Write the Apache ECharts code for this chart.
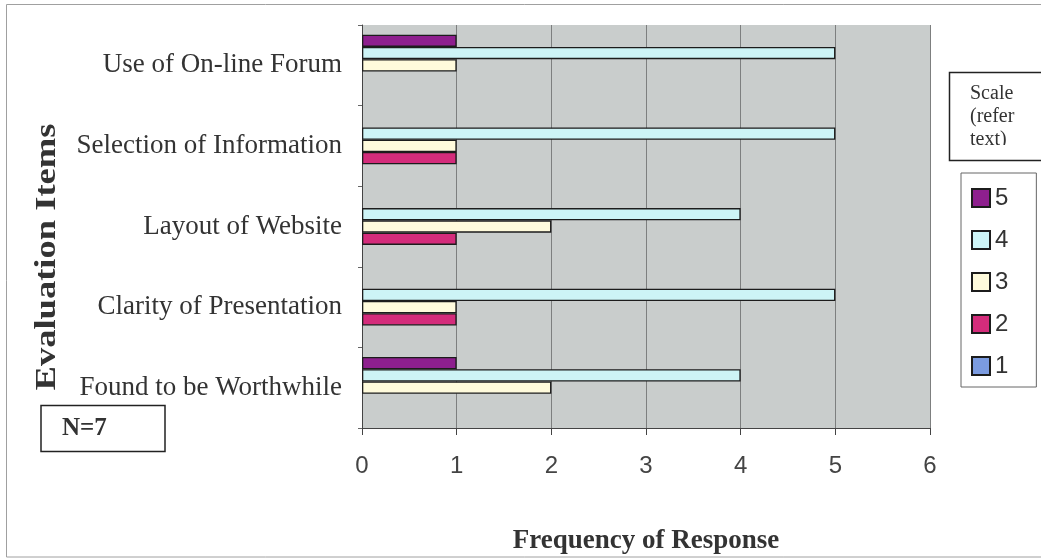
<!DOCTYPE html>
<html>
<head>
<meta charset="utf-8">
<style>
  html, body { margin: 0; padding: 0; background: #ffffff; }
  #chart { width: 1041px; height: 559px; }
</style>
<script src="https://cdn.jsdelivr.net/npm/echarts@6/dist/echarts.min.js"></script>
</head>
<body>
<div id="chart"></div>
<script>
// Evaluation items, listed bottom to top along the category axis
const categories = [
  'Found to be Worthwhile',
  'Clarity of Presentation',
  'Layout of Website',
  'Selection of Information',
  'Use of On-line Forum'
];

// Frequency of each scale response per item (same order as categories)
const scale5 = [1, 0, 0, 0, 1];
const scale4 = [4, 5, 4, 5, 5];
const scale3 = [2, 1, 2, 1, 1];
const scale2 = [0, 1, 1, 1, 0];
const scale1 = [0, 0, 0, 0, 0];

const xTicks = [0, 1, 2, 3, 4, 5, 6];

const seriesDefs = [
  { name: '5', data: scale5, color: '#8e1f8e' },
  { name: '4', data: scale4, color: '#cdf4f6' },
  { name: '3', data: scale3, color: '#fffbdc' },
  { name: '2', data: scale2, color: '#d42c7b' },
  { name: '1', data: scale1, color: '#7b9be0' }
];

const serif = '"Liberation Serif", "Times New Roman", serif';
const sans = '"Liberation Sans", Arial, sans-serif';

const chart = echarts.init(document.getElementById('chart'), null, { renderer: 'canvas' });

const series = seriesDefs.map(s => ({
  name: s.name,
  type: 'bar',
  barGap: '0%',
  barCategoryGap: '24%',
  itemStyle: { color: s.color, borderColor: '#1c1c1c', borderWidth: 1.3 },
  // a zero frequency draws no bar outline
  data: s.data.map(v => v === 0 ? { value: v, itemStyle: { borderWidth: 0 } } : v),
  emphasis: { disabled: true },
  animation: false
}));

chart.setOption({
  backgroundColor: '#ffffff',
  animation: false,
  grid: {
    left: 362, right: 111, top: 25, bottom: 131,
    outerBoundsMode: 'none',
    containLabel: false,
    show: true, backgroundColor: '#c9cdcc', borderWidth: 0
  },
  xAxis: {
    type: 'value',
    min: xTicks[0], max: xTicks[xTicks.length - 1], interval: 1,
    name: 'Frequency of Response',
    nameLocation: 'middle',
    nameGap: 100,
    nameTextStyle: { fontFamily: serif, fontWeight: 'bold', fontSize: 27, color: '#333' },
    axisLine: { show: true, lineStyle: { color: '#444', width: 1 } },
    axisTick: { show: true, length: 7, lineStyle: { color: '#444' } },
    axisLabel: { fontFamily: sans, fontSize: 24, color: '#444', margin: 26 },
    splitLine: { show: true, lineStyle: { color: '#7d7f7f', width: 1 } }
  },
  yAxis: {
    type: 'category',
    data: categories,
    axisLine: { show: true, lineStyle: { color: '#444', width: 1 } },
    axisTick: { show: true, length: 4, inside: false, lineStyle: { color: '#666' } },
    axisLabel: { fontFamily: serif, fontSize: 27, color: '#333', margin: 20 },
    splitLine: { show: false }
  },
  legend: {
    orient: 'vertical',
    left: 961, top: 173,
    data: ['5', '4', '3', '2', '1'],
    icon: 'rect',
    itemWidth: 18, itemHeight: 18, itemGap: 18,
    padding: [13, 28, 9, 10],
    backgroundColor: '#ffffff',
    borderColor: '#666', borderWidth: 1,
    textStyle: { fontFamily: sans, fontSize: 24, color: '#333' },
    selectedMode: false
  },
  series: series,
  graphic: [
    // outer frame of the chart
    { type: 'rect', shape: { x: 6.5, y: 4.5, width: 1050, height: 552.5 },
      style: { fill: 'none', stroke: '#a0a0a0', lineWidth: 1 }, silent: true, z: 0 },
    // vertical axis title
    { type: 'text', x: 48, y: 257, rotation: Math.PI / 2, scaleX: 1.26,
      style: { text: 'Evaluation Items', font: 'bold 29px ' + serif, fill: '#333',
               align: 'center', verticalAlign: 'middle' }, silent: true },
    // sample size box
    { type: 'rect', shape: { x: 41, y: 405.5, width: 124, height: 46 },
      style: { fill: '#ffffff', stroke: '#222', lineWidth: 1.5 }, silent: true },
    { type: 'text', x: 62, y: 429,
      style: { text: 'N=7', font: 'bold 25px ' + serif, fill: '#333',
               align: 'left', verticalAlign: 'middle' }, silent: true },
    // legend caption box (text runs past the clipped bottom)
    { type: 'text', x: 970, y: 94,
      style: { text: 'Scale', font: '20px ' + serif, fill: '#333',
               align: 'left', verticalAlign: 'middle' }, silent: true, z: 10 },
    { type: 'text', x: 970, y: 117,
      style: { text: '(refer', font: '20px ' + serif, fill: '#333',
               align: 'left', verticalAlign: 'middle' }, silent: true, z: 10 },
    { type: 'text', x: 970, y: 140,
      style: { text: 'text)', font: '20px ' + serif, fill: '#333',
               align: 'left', verticalAlign: 'middle' }, silent: true, z: 10 },
    { type: 'rect', shape: { x: 950, y: 145, width: 100, height: 27 },
      style: { fill: '#ffffff' }, silent: true, z: 11 },
    { type: 'rect', shape: { x: 949.5, y: 72.5, width: 100, height: 88 },
      style: { fill: 'none', stroke: '#222', lineWidth: 1.5 }, silent: true, z: 12 }
  ]
});
</script>
</body>
</html>
